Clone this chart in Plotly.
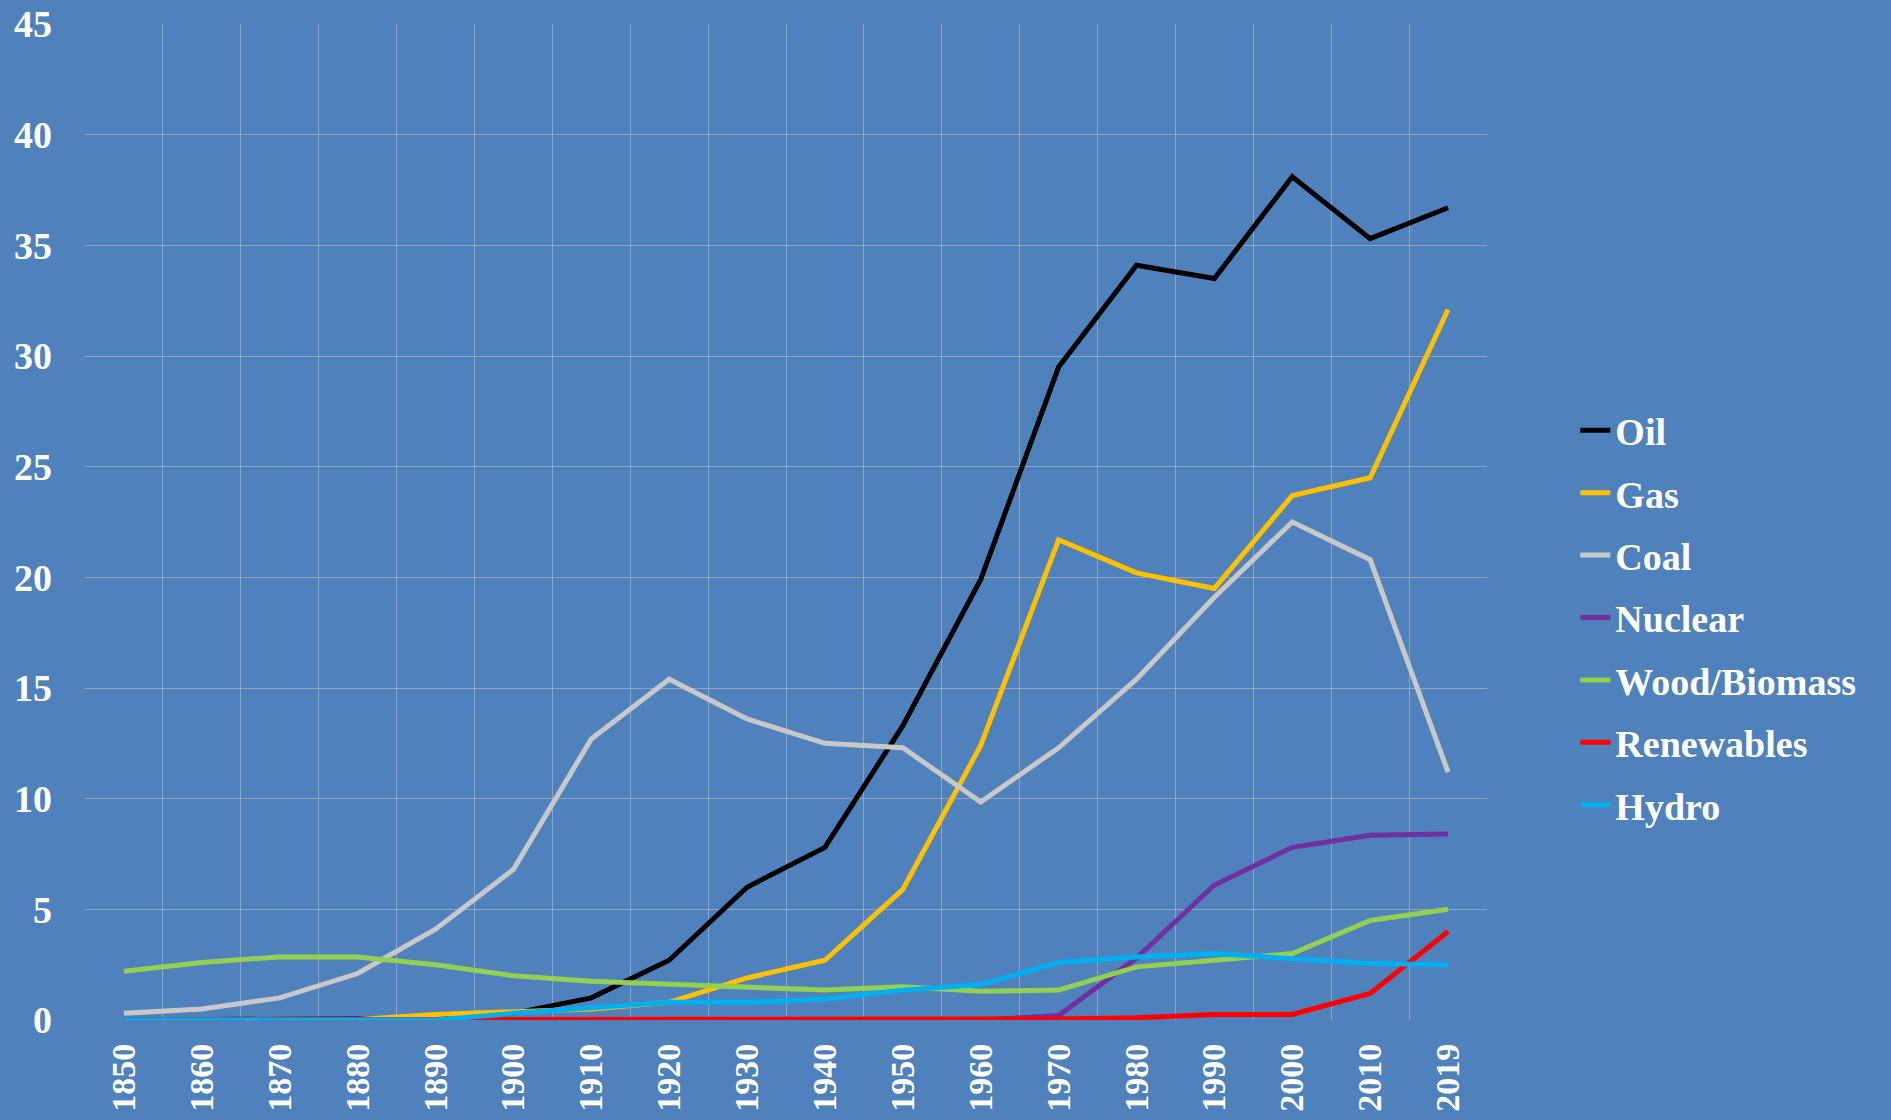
import plotly.graph_objects as go

years = ["1850", "1860", "1870", "1880", "1890", "1900", "1910", "1920", "1930",
         "1940", "1950", "1960", "1970", "1980", "1990", "2000", "2010", "2019"]

oil = [0.0, 0.0, 0.02, 0.05, 0.1, 0.3, 1.0, 2.7, 6.0, 7.8, 13.3, 19.9, 29.5, 34.1, 33.5, 38.1, 35.3, 36.7]
gas = [0.0, 0.0, 0.0, 0.02, 0.25, 0.35, 0.5, 0.8, 1.9, 2.7, 5.9, 12.4, 21.7, 20.2, 19.5, 23.7, 24.5, 32.1]
coal = [0.3, 0.5, 1.0, 2.1, 4.1, 6.8, 12.7, 15.4, 13.6, 12.5, 12.3, 9.85, 12.3, 15.4, 19.1, 22.5, 20.8, 11.2]
nuclear = [0, 0, 0, 0, 0, 0, 0, 0, 0, 0, 0, 0.0, 0.2, 2.8, 6.1, 7.8, 8.35, 8.4]
wood = [2.2, 2.6, 2.85, 2.85, 2.5, 2.0, 1.75, 1.6, 1.45, 1.35, 1.5, 1.3, 1.35, 2.4, 2.7, 3.0, 4.5, 5.0]
renewables = [0, 0, 0, 0, 0, 0.0, 0.0, 0.0, 0.0, 0.0, 0.0, 0.02, 0.05, 0.1, 0.25, 0.25, 1.2, 4.0]
hydro = [0, 0, 0, 0, 0, 0.3, 0.55, 0.8, 0.8, 0.95, 1.35, 1.6, 2.6, 2.85, 3.0, 2.8, 2.55, 2.5]

series = [
    ("Oil", oil, "#000000"),
    ("Gas", gas, "#FFC000"),
    ("Coal", coal, "#C8C8C8"),
    ("Nuclear", nuclear, "#7030A0"),
    ("Wood/Biomass", wood, "#92D050"),
    ("Renewables", renewables, "#FF0000"),
    ("Hydro", hydro, "#00B0F0"),
]

fig = go.Figure()
for name, vals, col in series:
    fig.add_trace(go.Scatter(
        x=years, y=vals, name=name, mode="lines",
        legendgroup=name,
        line=dict(color=col, width=5),
    ))

bg = "#4F81BD"
grid = "rgba(190,190,190,0.6)"
fam = "Liberation Serif"

fig.update_layout(
    width=1891, height=1120,
    paper_bgcolor=bg, plot_bgcolor=bg,
    margin=dict(l=85, r=404, t=24, b=100),
    font=dict(family=fam, size=36, color="white", weight="bold"),
    showlegend=True,
    legend=dict(
        x=1.063, y=0.404, xanchor="left", yanchor="middle",
        bgcolor="rgba(0,0,0,0)",
        font=dict(family=fam, size=38, color="white", weight="bold"),
        tracegroupgap=10, traceorder="grouped",
    ),
    xaxis=dict(
        type="category", range=[-0.5, 17.5], tickson="boundaries",
        showgrid=True, gridcolor=grid, gridwidth=1,
        tickangle=-90, ticks="", ticklabelstandoff=16,
        showline=False, zeroline=False, automargin=False,
        tickfont=dict(family=fam, size=34, color="white", weight="bold"),
    ),
    yaxis=dict(
        range=[0, 45], dtick=5, showgrid=True, gridcolor=grid, gridwidth=1,
        ticks="", ticklabelstandoff=32, zeroline=False, showline=False,
        automargin=False,
        tickfont=dict(family=fam, size=38, color="white", weight="bold"),
    ),
)

fig.write_html("out.html", config={"displayModeBar": False},
               post_script="document.body.style.margin='0';")
